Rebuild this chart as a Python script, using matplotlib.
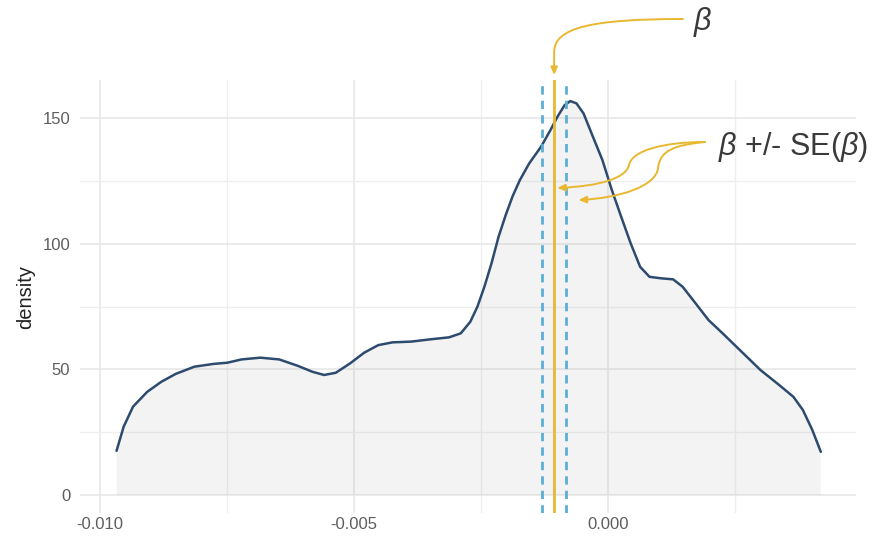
import numpy as np
import matplotlib
matplotlib.use("Agg")
import matplotlib.pyplot as plt
from matplotlib.path import Path
from matplotlib.patches import FancyArrowPatch

plt.rcParams["font.family"] = ["Liberation Sans", "DejaVu Sans"]
plt.rcParams["mathtext.fontset"] = "custom"
plt.rcParams["mathtext.it"] = "Liberation Sans:italic"
plt.rcParams["mathtext.rm"] = "Liberation Sans"

# density estimate of the coefficient
dens_x = [-0.009675, -0.009535, -0.009350, -0.009071, -0.008793, -0.008514,
          -0.008144, -0.007772, -0.007492, -0.007215, -0.006843, -0.006472,
          -0.006100, -0.005821, -0.005589, -0.005358, -0.005079, -0.004799,
          -0.004522, -0.004242, -0.003872, -0.003500, -0.003128, -0.002898,
          -0.002711, -0.002571, -0.002433, -0.002293, -0.002154, -0.002014,
          -0.001876, -0.001736, -0.001551, -0.001319, -0.001132, -0.000994,
          -0.000854, -0.000742, -0.000622, -0.000482, -0.000297, -0.000110,
          0.000075, 0.000260, 0.000447, 0.000632, 0.000817, 0.001049,
          0.001281, 0.001467, 0.001699, 0.001978, 0.002256, 0.002628,
          0.003000, 0.003370, 0.003650, 0.003835, 0.004022, 0.004189]
dens_y = [17.6, 27.2, 35.2, 41.1, 45.1, 48.2,
          51.1, 52.2, 52.7, 54.0, 54.7, 54.0,
          51.4, 49.1, 47.8, 48.7, 52.4, 56.7,
          59.7, 60.8, 61.1, 62.0, 62.8, 64.4,
          69.0, 75.0, 83.0, 92.3, 102.9, 111.5,
          119.1, 125.4, 132.1, 138.7, 145.4, 150.7,
          155.3, 156.9, 156.0, 152.0, 142.7, 133.4,
          121.5, 110.8, 100.2, 90.9, 86.9, 86.3,
          85.9, 83.0, 77.0, 69.7, 64.4, 57.1,
          49.8, 43.8, 39.1, 33.9, 25.9, 17.2]

beta = -0.00106
se = 0.00024

x_ticks = [-0.010, -0.005, 0.000]
x_ticklabels = ["-0.010", "-0.005", "0.000"]
y_ticks = [0, 50, 100, 150]

gold = "#E8B830"
blue_dash = "#5BAED6"
curve_col = "#2D4B6E"
txt_col = "#3A3A3A"

fig = plt.figure(figsize=(8.94, 5.42), dpi=100)
ax = fig.add_axes([0.0895, 0.0535, 0.868, 0.7989])

ax.fill_between(dens_x, 0, dens_y, facecolor="grey", alpha=0.09, lw=0, zorder=1)
ax.plot(dens_x, dens_y, color=curve_col, lw=1.8, zorder=3,
        solid_joinstyle="round", solid_capstyle="round")

ax.axvline(beta - se, color=blue_dash, lw=2, linestyle=(0, (3, 2.2)), zorder=4)
ax.axvline(beta + se, color=blue_dash, lw=2, linestyle=(0, (3, 2.2)), zorder=4)
ax.axvline(beta, color=gold, lw=2, zorder=5)

ax.set_xlim(-0.010394, 0.004882)
ax.set_ylim(-7.17, 165.3)

# ggplot minimal look
ax.set_xticks(x_ticks)
ax.set_xticklabels(x_ticklabels)
ax.set_yticks(y_ticks)
ax.set_xticks([-0.0075, -0.0025, 0.0025], minor=True)
ax.set_yticks([25, 75, 125], minor=True)
ax.grid(which="major", color="#E6E6E6", lw=1.1)
ax.grid(which="minor", color="#EEEEEE", lw=0.9)
ax.set_axisbelow(True)
for s in ax.spines.values():
    s.set_visible(False)
ax.tick_params(which="both", length=0)
ax.tick_params(axis="x", pad=3, labelsize=12, labelcolor="#5E5E5E")
ax.tick_params(axis="y", pad=7, labelsize=12, labelcolor="#5E5E5E")
ax.set_ylabel("density", fontsize=14.5, color="#222222", labelpad=5)

arrow_kw = dict(arrowstyle="-|>,head_length=0.45,head_width=0.2",
                mutation_scale=10, color=gold, lw=1.4,
                transform=ax.transData, clip_on=False, zorder=6)

# beta label with arrow down onto the estimate
ax.text(0.00167, 188.4, r"$\beta$", fontsize=22, color=txt_col,
        ha="left", va="center", clip_on=False)
p0 = Path([(0.001476, 189.6), (-0.000354, 189.6), (beta, 186.0), (beta, 176.4),
           (beta, 167.3)],
          [Path.MOVETO, Path.CURVE4, Path.CURVE4, Path.CURVE4, Path.LINETO])
ax.add_patch(FancyArrowPatch(path=p0, **arrow_kw))

# beta +/- SE label with two wavy arrows
ax.text(0.002165, 138.8, r"$\beta$ +/- SE($\beta$)", fontsize=22, color=txt_col,
        ha="left", va="center", clip_on=False)
tip1 = beta + 0.00006
tip2 = beta + se + 0.00024
p1 = Path([(0.001909, 140.6), (0.001122, 140.6), (0.000472, 137.4), (0.000413, 131.4),
           (0.000354, 126.2), (-0.000157, 123.0), (tip1, 122.3)],
          [Path.MOVETO, Path.CURVE4, Path.CURVE4, Path.CURVE4,
           Path.CURVE4, Path.CURVE4, Path.CURVE4])
p2 = Path([(0.001909, 140.6), (0.001319, 139.4), (0.001024, 137.4), (0.000984, 130.2),
           (0.000945, 123.0), (0.000236, 118.3), (tip2, 117.5)],
          [Path.MOVETO, Path.CURVE4, Path.CURVE4, Path.CURVE4,
           Path.CURVE4, Path.CURVE4, Path.CURVE4])
ax.add_patch(FancyArrowPatch(path=p1, **arrow_kw))
ax.add_patch(FancyArrowPatch(path=p2, **arrow_kw))

fig.savefig("out.png", dpi=100)
